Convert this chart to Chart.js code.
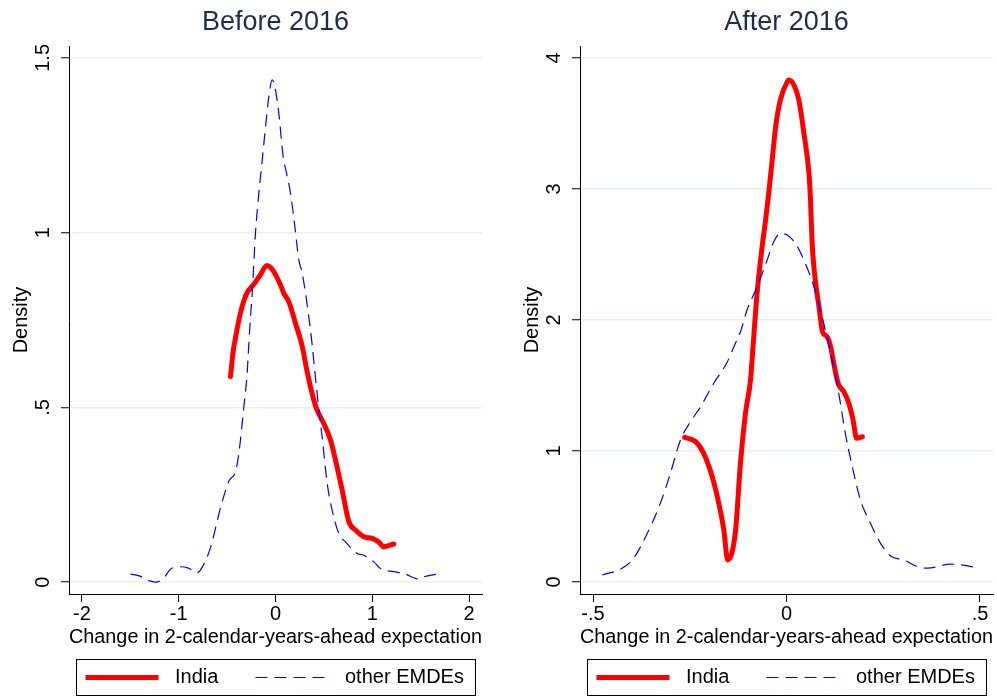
<!DOCTYPE html>
<html>
<head>
<meta charset="utf-8">
<title>Density of expectation changes</title>
<script src="https://cdn.jsdelivr.net/npm/chart.js@4.4.1/dist/chart.umd.min.js"></script>
<style>
  body { margin: 0; background: #fff; }
  #wrap { position: relative; width: 997px; height: 696px; }
  #before { position: absolute; left: 0; top: 0; }
  #after { position: absolute; left: 498px; top: 0; }
</style>
</head>
<body>
<div id="wrap">
  <canvas id="before" width="498" height="696"></canvas>
  <canvas id="after" width="499" height="696"></canvas>
</div>
<script>
// ---- data ----
const seriesNames = ['India', 'other EMDEs'];

// Before 2016
const beforeIndiaX = [-0.465, -0.44, -0.413, -0.362, -0.327, -0.293, -0.224, -0.155, -0.09, -0.05, -0.017, 0.052, 0.086, 0.138, 0.207, 0.276, 0.327, 0.396, 0.43, 0.499, 0.568, 0.62, 0.689, 0.758, 0.826, 0.912, 0.999, 1.067, 1.119, 1.222];
const beforeIndiaY = [0.588, 0.655, 0.70, 0.770, 0.805, 0.828, 0.852, 0.880, 0.906, 0.90, 0.888, 0.850, 0.826, 0.802, 0.740, 0.675, 0.602, 0.521, 0.492, 0.454, 0.407, 0.349, 0.263, 0.173, 0.149, 0.130, 0.125, 0.115, 0.101, 0.109];
const beforeOtherX = [-1.498, -1.40, -1.325, -1.24, -1.157, -1.085, -0.98, -0.9, -0.81, -0.757, -0.67, -0.568, -0.48, -0.413, -0.379, -0.327, -0.293, -0.28, -0.265, -0.24, -0.207, -0.172, -0.137, -0.103, -0.069, -0.034, -0.007, 0.034, 0.079, 0.114, 0.155, 0.2, 0.241, 0.276, 0.362, 0.43, 0.482, 0.534, 0.585, 0.654, 0.723, 0.844, 0.912, 1.016, 1.085, 1.222, 1.325, 1.48, 1.532, 1.67];
const beforeOtherY = [0.023, 0.017, 0.006, 0.0, 0.011, 0.037, 0.044, 0.04, 0.027, 0.043, 0.10, 0.213, 0.29, 0.316, 0.368, 0.502, 0.598, 0.66, 0.73, 0.83, 0.998, 1.113, 1.208, 1.303, 1.389, 1.437, 1.418, 1.342, 1.218, 1.170, 1.113, 1.017, 0.922, 0.884, 0.72, 0.54, 0.415, 0.283, 0.206, 0.139, 0.115, 0.082, 0.077, 0.058, 0.039, 0.03, 0.025, 0.009, 0.015, 0.023];
const beforeXTicks = [-2, -1, 0, 1, 2];
const beforeXLabels = ['-2', '-1', '0', '1', '2'];
const beforeYTicks = [0, 0.5, 1, 1.5];
const beforeYLabels = ['0', '.5', '1', '1.5'];

// After 2016
const afterIndiaX = [-0.263, -0.235, -0.214, -0.192, -0.175, -0.162, -0.152, -0.132, -0.119, -0.106, -0.093, -0.089, -0.076, -0.063, -0.054, -0.046, -0.037, -0.028, -0.016, 0.002, 0.006, 0.02, 0.032, 0.045, 0.058, 0.062, 0.066, 0.071, 0.078, 0.084, 0.093, 0.105, 0.114, 0.122, 0.131, 0.135, 0.148, 0.161, 0.172, 0.181, 0.196];
const afterIndiaY = [1.104, 1.071, 0.982, 0.804, 0.601, 0.397, 0.168, 0.384, 0.906, 1.288, 1.542, 1.695, 2.204, 2.560, 2.763, 2.967, 3.221, 3.476, 3.679, 3.819, 3.832, 3.79, 3.679, 3.425, 3.12, 2.92, 2.60, 2.40, 2.22, 2.10, 1.91, 1.873, 1.796, 1.669, 1.542, 1.504, 1.453, 1.364, 1.237, 1.097, 1.109];
const afterOtherX = [-0.476, -0.425, -0.395, -0.36, -0.326, -0.3, -0.274, -0.248, -0.222, -0.188, -0.153, -0.136, -0.119, -0.102, -0.076, -0.05, -0.033, -0.016, 0.002, 0.023, 0.045, 0.071, 0.092, 0.114, 0.135, 0.152, 0.17, 0.191, 0.217, 0.243, 0.269, 0.303, 0.338, 0.364, 0.424, 0.495];
const afterOtherY = [0.053, 0.104, 0.181, 0.37, 0.60, 0.83, 1.084, 1.224, 1.338, 1.517, 1.68, 1.796, 1.91, 2.076, 2.254, 2.458, 2.598, 2.66, 2.649, 2.585, 2.458, 2.254, 2.025, 1.746, 1.44, 1.135, 0.88, 0.626, 0.448, 0.295, 0.198, 0.168, 0.117, 0.105, 0.136, 0.11];
const afterXTicks = [-0.5, 0, 0.5];
const afterXLabels = ['-.5', '0', '.5'];
const afterYTicks = [0, 1, 2, 3, 4];
const afterYLabels = ['0', '1', '2', '3', '4'];

const FONT = '"Liberation Sans", Arial, Helvetica, sans-serif';
Chart.defaults.font.family = FONT;
Chart.defaults.color = '#000';

const zip = (xs, ys) => xs.map((x, i) => ({x: x, y: ys[i]}));

// rotated y tick labels + boxed legend under each panel
const extras = {
    id: 'extras',
    afterDraw(chart, args, opts) {
        const ctx = chart.ctx;
        const area = chart.chartArea;
        const yScale = chart.scales.y;
        ctx.save();
        ctx.fillStyle = '#000';
        ctx.font = '20px ' + FONT;
        ctx.textAlign = 'center';
        ctx.textBaseline = 'middle';
        yScale.ticks.forEach((t, i) => {
            ctx.save();
            ctx.translate(area.left - 26, yScale.getPixelForValue(t.value));
            ctx.rotate(-Math.PI / 2);
            ctx.fillText(opts.yLabels[i], 0, 0);
            ctx.restore();
        });

        // legend box
        const boxW = 399, boxH = 36;
        const bx = Math.round((area.left + area.right) / 2 - boxW / 2) + 0.5;
        const by = 659.5;
        const ly = 677.5;
        ctx.strokeStyle = '#000';
        ctx.lineWidth = 1;
        ctx.strokeRect(bx, by, boxW, boxH);

        ctx.strokeStyle = '#ff0000';
        ctx.lineWidth = 5;
        ctx.beginPath();
        ctx.moveTo(bx + 9, ly);
        ctx.lineTo(bx + 82, ly);
        ctx.stroke();

        ctx.strokeStyle = '#0000ff';
        ctx.lineWidth = 1.2;
        ctx.setLineDash([12, 7]);
        ctx.beginPath();
        ctx.moveTo(bx + 179, ly);
        ctx.lineTo(bx + 253, ly);
        ctx.stroke();
        ctx.setLineDash([]);

        ctx.textAlign = 'left';
        ctx.fillText(chart.data.datasets[0].label, bx + 98.5, ly);
        ctx.fillText(chart.data.datasets[1].label, bx + 268.5, ly);
        ctx.restore();
    }
};

function makePanel(id, title, india, other, xr, yr, xTicks, xLabels, yTicks, yLabels, pad) {
    const font = {size: 20, family: FONT};
    return new Chart(document.getElementById(id), {
        type: 'line',
        data: {
            datasets: [
                {
                    label: seriesNames[0],
                    data: india,
                    borderColor: '#ff0000',
                    borderWidth: 5,
                    borderCapStyle: 'round',
                    borderJoinStyle: 'round',
                    pointRadius: 0,
                    cubicInterpolationMode: 'monotone',
                    order: 1
                },
                {
                    label: seriesNames[1],
                    data: other,
                    borderColor: '#0000ff',
                    borderWidth: 1.2,
                    borderDash: [12, 7],
                    pointRadius: 0,
                    cubicInterpolationMode: 'monotone',
                    order: 0
                }
            ]
        },
        options: {
            responsive: false,
            animation: false,
            layout: {padding: pad},
            plugins: {
                legend: {display: false},
                tooltip: {enabled: false},
                title: {
                    display: true,
                    text: title,
                    fullSize: false,
                    color: '#1e2c50',
                    font: {size: 27, weight: 'normal', family: FONT},
                    padding: {top: 6, bottom: 7.6}
                },
                extras: {yLabels: yLabels}
            },
            scales: {
                x: {
                    type: 'linear',
                    min: xr[0],
                    max: xr[1],
                    afterBuildTicks: s => { s.ticks = xTicks.map(v => ({value: v})); },
                    afterFit: s => { s.height = 64; },
                    grid: {drawOnChartArea: false, drawTicks: true, tickLength: 8, tickColor: '#000'},
                    border: {color: '#000', width: 1},
                    ticks: {padding: 0, color: '#000', font: font, maxRotation: 0, callback: (v, i) => xLabels[i]},
                    title: {display: true, text: 'Change in 2-calendar-years-ahead expectation', color: '#000', font: font, padding: {top: 0, bottom: 9}}
                },
                y: {
                    type: 'linear',
                    min: yr[0],
                    max: yr[1],
                    afterBuildTicks: s => { s.ticks = yTicks.map(v => ({value: v})); },
                    afterFit: s => { s.width = 69; },
                    grid: {color: '#e8eff2', lineWidth: 1.5, drawTicks: true, tickLength: 8, tickColor: '#000', tickWidth: 1},
                    border: {color: '#000', width: 1},
                    ticks: {display: false},
                    title: {display: true, text: 'Density', color: '#000', font: font, padding: {top: 9, bottom: 0}}
                }
            }
        },
        plugins: [extras]
    });
}

makePanel('before', 'Before 2016',
    zip(beforeIndiaX, beforeIndiaY), zip(beforeOtherX, beforeOtherY),
    [-2.134, 2.134], [-0.034, 1.534],
    beforeXTicks, beforeXLabels, beforeYTicks, beforeYLabels,
    {left: 0, right: 16, top: 0, bottom: 38});

makePanel('after', 'After 2016',
    zip(afterIndiaX, afterIndiaY), zip(afterOtherX, afterOtherY),
    [-0.5336, 0.5336], [-0.092, 4.092],
    afterXTicks, afterXLabels, afterYTicks, afterYLabels,
    {left: 13, right: 4, top: 0, bottom: 38});
</script>
</body>
</html>
